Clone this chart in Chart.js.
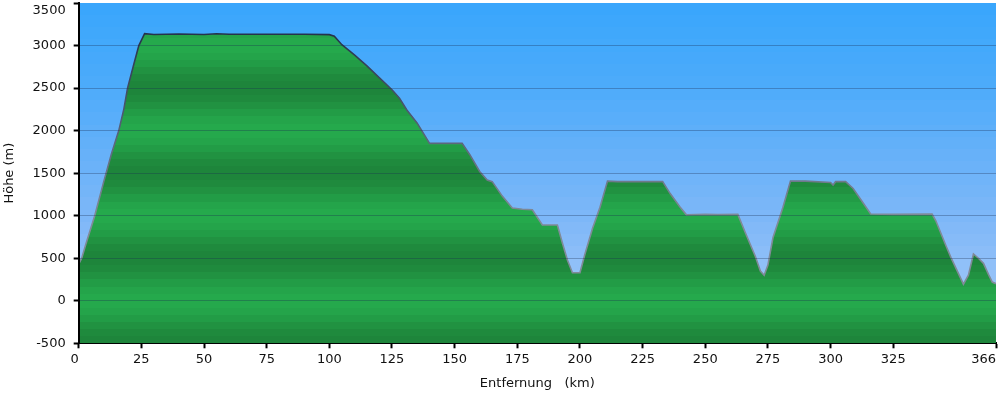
<!DOCTYPE html>
<html>
<head>
<meta charset="utf-8">
<script src="https://cdn.jsdelivr.net/npm/chart.js@4/dist/chart.umd.min.js"></script>
<style>
  body { margin: 0; background: #fff; }
  #wrap { width: 1000px; height: 394px; }
</style>
</head>
<body>
<div id="wrap"><canvas id="profileChart" width="1000" height="394"></canvas></div>
<script>
// distance along the route (km) and altitude (m)
var distKm = [0, 1.2, 3, 6.4, 10, 13, 16, 18, 19.5, 22, 24, 26.3, 30, 40, 50, 55, 60, 75, 90, 100,
    102, 105, 110, 115, 120, 125, 128, 131, 135, 140, 147, 153, 156, 160, 163, 165, 169, 173, 177, 181,
    185, 191, 193, 195, 197, 200, 202, 205, 208, 211, 215, 225, 233, 236, 240, 242.5, 250, 255, 263, 266,
    270, 272, 273.5, 275, 277, 281, 284, 290, 300, 301, 302, 306, 309, 313, 316, 325, 340.5, 342, 346, 348,
    353, 355, 357, 359, 361, 363, 364.5, 366];
var heightM = [430, 500, 680, 1000, 1400, 1720, 2000, 2250, 2500, 2780, 3000, 3140, 3130, 3135, 3130, 3138, 3132, 3133, 3132, 3128,
    3110, 3010, 2890, 2760, 2620, 2480, 2380, 2240, 2090, 1850, 1850, 1850, 1720, 1520, 1420, 1400, 1230, 1090, 1075, 1070,
    890, 890, 680, 480, 330, 330, 550, 850, 1100, 1406, 1400, 1400, 1400, 1260, 1100, 1010, 1015, 1012, 1015, 800,
    520, 350, 300, 420, 740, 1100, 1406, 1406, 1390, 1360, 1400, 1400, 1320, 1150, 1020, 1015, 1018, 940, 650, 510,
    195, 300, 550, 500, 440, 310, 220, 200];
var xTicks = [0, 25, 50, 75, 100, 125, 150, 175, 200, 225, 250, 275, 300, 325, 366];
var yMin = -500, yMax = 3500, yStep = 500;

var points = [];
for (var i = 0; i < distKm.length; i++) {
    points.push({x: distKm[i], y: heightM[i]});
}

function mix(a, b, t) {
    var r = Math.round(a[0] + (b[0] - a[0]) * t);
    var g = Math.round(a[1] + (b[1] - a[1]) * t);
    var bl = Math.round(a[2] + (b[2] - a[2]) * t);
    return 'rgb(' + r + ',' + g + ',' + bl + ')';
}

// banded green fill, light at every 1000 m, dark in between
function greenFill(context) {
    var chart = context.chart;
    var area = chart.chartArea;
    if (!area) return '#22a048';
    var ys = chart.scales.y;
    var top = ys.getPixelForValue(yMax), bot = ys.getPixelForValue(yMin);
    var grad = chart.ctx.createLinearGradient(0, top, 0, bot);
    var light = [37, 170, 76], dark = [30, 132, 59];
    var band = 1000 / 12;
    for (var v = yMax; v > yMin; v -= band) {
        var mid = v - band / 2;
        var f = (1 - Math.cos(2 * Math.PI * mid / 1000)) / 2;
        var c = mix(light, dark, f);
        var p1 = (ys.getPixelForValue(v) - top) / (bot - top);
        var p2 = (ys.getPixelForValue(Math.max(v - band, yMin)) - top) / (bot - top);
        grad.addColorStop(Math.max(0, Math.min(1, p1)), c);
        grad.addColorStop(Math.max(0, Math.min(1, p2)), c);
    }
    return grad;
}

function outline(context) {
    var chart = context.chart;
    if (!chart.chartArea) return '#555';
    var ys = chart.scales.y;
    var grad = chart.ctx.createLinearGradient(0, ys.getPixelForValue(3200), 0, ys.getPixelForValue(1000));
    grad.addColorStop(0, '#233049');
    grad.addColorStop(0.45, '#4c5870');
    grad.addColorStop(1, '#808a98');
    return grad;
}

var skyPlugin = {
    id: 'sky',
    beforeDraw: function(chart) {
        var area = chart.chartArea;
        var ys = chart.scales.y;
        var ctx = chart.ctx;
        var stops = [[3500, [56, 166, 252]], [2500, [78, 171, 250]], [1000, [125, 183, 248]], [0, [158, 198, 248]], [-500, [168, 203, 248]]];
        var bands = 28;
        var h = (yMax - yMin) / bands;
        ctx.save();
        for (var k = 0; k < bands; k++) {
            var v1 = yMax - k * h, v2 = v1 - h, mid = v1 - h / 2;
            var j = 0;
            while (j < stops.length - 2 && mid < stops[j + 1][0]) j++;
            var t = (stops[j][0] - mid) / (stops[j][0] - stops[j + 1][0]);
            ctx.fillStyle = mix(stops[j][1], stops[j + 1][1], t);
            var y1 = Math.round(ys.getPixelForValue(v1)), y2 = Math.round(ys.getPixelForValue(v2));
            ctx.fillRect(area.left, y1, area.right - area.left, y2 - y1);
        }
        ctx.restore();
    }
};

var tickFont = {family: 'DejaVu Sans', size: 13};

new Chart(document.getElementById('profileChart'), {
    type: 'line',
    data: {
        datasets: [{
            data: points,
            fill: 'start',
            backgroundColor: greenFill,
            borderColor: outline,
            borderWidth: 1.6,
            pointRadius: 0,
            tension: 0
        }]
    },
    options: {
        responsive: false,
        animation: false,
        layout: {padding: {top: 3, right: 4, left: 2, bottom: 3}},
        plugins: {legend: {display: false}, tooltip: {enabled: false}},
        scales: {
            x: {
                type: 'linear',
                min: 0,
                max: 366,
                afterBuildTicks: function(scale) {
                    scale.ticks = xTicks.map(function(v) { return {value: v}; });
                },
                afterFit: function(scale) {
                    scale.paddingRight = 0;
                    scale.paddingLeft = 0;
                },
                grid: {drawOnChartArea: false, tickColor: '#000', tickLength: 5, tickWidth: 2},
                border: {color: '#000', width: 2},
                ticks: {
                    color: '#111', font: tickFont, padding: 4, maxRotation: 0, autoSkip: false,
                    callback: function(v) {
                        if (v === 0) return '0  ';
                        if (v === 366) return '366      ';
                        return String(v);
                    }
                },
                title: {display: true, text: 'Entfernung   (km)', color: '#111', font: tickFont, padding: {top: 3.5, bottom: 0}}
            },
            y: {
                min: yMin,
                max: yMax,
                afterFit: function(scale) {
                    scale.paddingTop = 0;
                    scale.paddingBottom = 0;
                },
                ticks: {
                    stepSize: yStep, color: '#111', font: tickFont, padding: 8,
                    callback: function(v) {
                        if (v === yMax) return ['', String(v)];
                        return String(v);
                    }
                },
                grid: {
                    z: 1,
                    color: function(c) {
                        var v = c.tick ? c.tick.value : 0;
                        return (v === yMax || v === yMin) ? 'rgba(0,0,0,0)' : 'rgba(25,45,80,0.32)';
                    },
                    lineWidth: 1,
                    tickColor: '#000',
                    tickLength: 5,
                    tickWidth: 2
                },
                border: {color: '#000', width: 2, z: 1},
                title: {display: true, text: 'Höhe (m)', color: '#111', font: tickFont, padding: {top: 0, bottom: 7}}
            }
        }
    },
    plugins: [skyPlugin]
});
</script>
</body>
</html>
